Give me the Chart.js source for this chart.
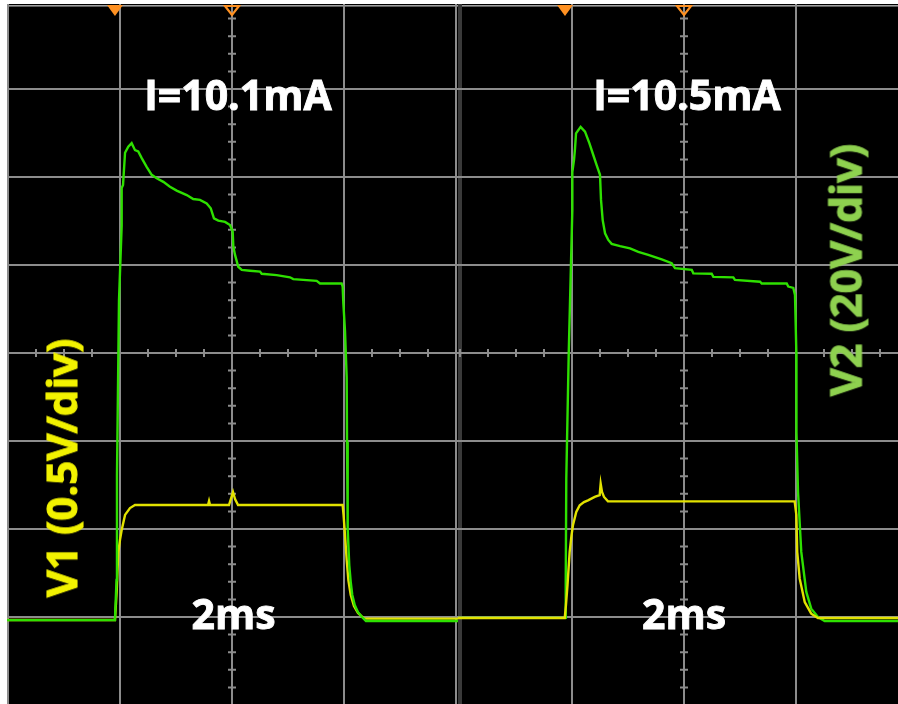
<!DOCTYPE html>
<html><head><meta charset="utf-8">
<script src="https://cdn.jsdelivr.net/npm/chart.js@4.4.1/dist/chart.umd.min.js"></script>
<style>
html,body{margin:0;padding:0;background:#fff;width:898px;height:704px;overflow:hidden;position:relative;font-family:'Open Sans',sans-serif;}
canvas{position:absolute;display:block;}
#cl{left:7px;top:4px;}
#cr{left:458px;top:4px;}
.lbl{position:absolute;font-weight:700;white-space:nowrap;-webkit-text-stroke:0.9px currentColor;}
</style></head>
<body>
<canvas id="cl" width="451" height="700"></canvas>
<canvas id="cr" width="440" height="700"></canvas>
<script>
// ---- data: time in ms, V1 in volts (0.5 V/div), V2 in volts (20 V/div) ----
const LEFT_V2_T = [-1.02,-0.045,-0.031,-0.027,-0.009,-0.004,0.015,0.015,0.027,0.045,
  0.074,0.104,0.134,0.163,0.194,0.238,0.283,0.328,0.387,0.446,
  0.506,0.596,0.654,0.714,0.774,0.810,0.839,0.878,0.938,0.982,
  1.006,1.012,1.027,1.056,1.087,1.161,1.250,1.265,1.399,1.518,
  1.547,1.756,1.786,1.979,1.988,1.994,2.009,2.024,2.027,2.033,
  2.039,2.047,2.060,2.074,2.096,2.125,2.161,2.196,3.02];
const LEFT_V2 = [-0.7,-0.7,8.4,32.3,72.0,75.5,88.9,97.5,98.2,105.5,
  106.9,107.7,106.1,105.8,104.3,102.3,100.5,99.7,98.9,97.8,
  96.9,95.9,95.0,94.8,94.0,92.9,90.6,90.1,89.8,89.1,
  87.6,84.2,82.3,79.6,78.9,78.7,78.5,78.0,77.7,77.2,
  76.8,76.4,75.8,75.8,75.1,71.4,65.0,54.5,39.8,20.0,
  16.4,11.8,8.0,5.0,2.7,1.1,0.0,-0.9,-0.9];

const LEFT_V1_T = [-1.02,-0.045,-0.029,-0.015,0.000,0.015,0.045,0.089,0.134,0.786,
  0.795,0.804,0.973,0.996,1.009,1.027,1.054,1.988,1.996,2.009,
  2.024,2.039,2.060,2.089,2.125,2.179,3.02];
const LEFT_V1 = [-0.017,-0.017,0.153,0.369,0.438,0.494,0.580,0.619,0.636,0.636,
  0.659,0.636,0.636,0.682,0.710,0.670,0.636,0.636,0.580,0.466,
  0.324,0.210,0.125,0.063,0.023,-0.009,-0.009];

const RIGHT_V2_T = [-1.02,-0.0625,-0.058,-0.054,-0.051,-0.029,-0.012,0.003,0.003,0.018,
  0.027,0.036,0.077,0.116,0.155,0.190,0.220,0.250,0.259,0.274,
  0.295,0.324,0.354,0.429,0.518,0.592,0.681,0.801,0.890,0.920,
  1.069,1.083,1.247,1.262,1.440,1.455,1.679,1.694,1.917,1.931,
  1.976,1.991,2.003,2.004,2.018,2.047,2.092,2.136,2.196,2.256,2.92];
const RIGHT_V2 = [-0.2,-0.2,3.9,8.0,31.4,60.2,77.3,92.5,101.1,103.9,
  106.5,109.9,111.4,110.3,107.7,105.0,102.7,100.5,94.8,90.2,
  87.2,85.7,84.8,84.3,83.8,83.0,82.3,81.3,80.4,79.3,
  78.9,78.1,78.0,77.3,77.2,76.6,76.2,75.8,75.8,75.1,
  74.8,73.2,60.2,42.0,28.4,14.8,5.7,1.9,0.0,-0.9,-0.9];

const RIGHT_V1_T = [-1.02,-0.065,-0.054,-0.040,-0.021,-0.004,0.009,0.038,0.069,0.107,
  0.143,0.203,0.247,0.256,0.268,0.286,0.321,1.988,2.003,2.011,
  2.033,2.078,2.136,2.196,2.92];
const RIGHT_V1 = [-0.006,-0.006,0.068,0.182,0.369,0.466,0.523,0.597,0.635,0.653,
  0.663,0.682,0.692,0.757,0.710,0.682,0.657,0.657,0.580,0.369,
  0.218,0.085,0.019,-0.006,-0.006];

const X_TICKS_LEFT = [-1, 0, 1, 2, 3];      // ms
const X_TICKS_RIGHT = [0, 1, 2];            // ms
const V1_TICKS = [0, 0.5, 1, 1.5, 2, 2.5, 3];  // V (grid divisions)
const TRIGGER_LEFT = -0.045, TRIGGER_RIGHT = -0.0625, CENTER_T = 1;
const LABEL_LEFT = 'I=10.1mA', LABEL_RIGHT = 'I=10.5mA', TIME_LABEL = '2ms';
const V1_LABEL = 'V1 (0.5V/div)', V2_LABEL = 'V2 (20V/div)';

// ---- scope geometry ----
const V1_PER_DIV = 0.5, V2_PER_DIV = 20, GROUND_DIV = -3;
const DIV_TOP = 3.9659, DIV_BOTTOM = -3.98864;
const V1_MIN = (DIV_BOTTOM - GROUND_DIV) * V1_PER_DIV, V1_MAX = (DIV_TOP - GROUND_DIV) * V1_PER_DIV;
const V2_MIN = (DIV_BOTTOM - GROUND_DIV) * V2_PER_DIV, V2_MAX = (DIV_TOP - GROUND_DIV) * V2_PER_DIV;
const GRID = '#8c8c8c', GREEN = '#2ee000', YELLOW = '#e2e200', ORANGE = '#ff9122';

const scopeDecor = {
  id: 'scopeDecor',
  beforeDraw(chart, args, o) {
    const {ctx, width, height} = chart;
    ctx.save();
    ctx.fillStyle = '#000'; ctx.fillRect(0, 0, width, height);
    ctx.fillStyle = '#a0a0a0'; ctx.fillRect(0, 1, width, 1.6);
    if (o.band) { ctx.fillStyle = '#3a3a3a'; ctx.fillRect(0, 0, 4, height); }
    ctx.restore();
  },
  beforeDatasetsDraw(chart) {
    const {ctx} = chart, x = chart.scales.x, y = chart.scales.y1;
    const cx = x.getPixelForValue(CENTER_T), cy = y.getPixelForValue(1.5);
    ctx.save(); ctx.strokeStyle = GRID; ctx.lineWidth = 2; ctx.beginPath();
    for (let k = -40; k <= 40; k++) {
      const py = y.getPixelForValue(1.5 + k * 0.1);
      if (py < 0 || py > chart.height) continue;
      ctx.moveTo(cx - 4, py); ctx.lineTo(cx + 4, py);
    }
    for (let k = -8; k <= 16; k++) {
      const px = x.getPixelForValue(k * 0.25);
      if (px < 0 || px > chart.width) continue;
      ctx.moveTo(px, cy - 4); ctx.lineTo(px, cy + 4);
    }
    ctx.stroke(); ctx.restore();
  },
  afterDatasetsDraw(chart, args, o) {
    const {ctx} = chart, x = chart.scales.x;
    const tp = x.getPixelForValue(o.trigger), cp = x.getPixelForValue(CENTER_T);
    ctx.save();
    ctx.fillStyle = ORANGE;
    ctx.beginPath(); ctx.moveTo(tp - 8, 1); ctx.lineTo(tp + 8, 1); ctx.lineTo(tp, 12); ctx.closePath(); ctx.fill();
    ctx.strokeStyle = ORANGE; ctx.lineWidth = 2.2;
    ctx.beginPath(); ctx.moveTo(cp - 7, 2); ctx.lineTo(cp + 7, 2); ctx.lineTo(cp, 11); ctx.closePath(); ctx.stroke();
    ctx.restore();
  }
};

function series(t, v, axis, color) {
  return {data: t.map((tt, i) => ({x: tt, y: v[i]})), yAxisID: axis, borderColor: color,
    borderWidth: 2.4, pointRadius: 0, tension: 0, fill: false};
}
function gridAxis(min, max, ticks, pos) {
  return {type: 'linear', position: pos, min, max,
    afterBuildTicks: s => { s.ticks = ticks.map(v => ({value: v})); },
    ticks: {display: false}, grid: {color: GRID, lineWidth: 2, drawTicks: false}, border: {display: false}};
}
function makeChart(id, xmin, xmax, xticks, sets, decor) {
  return new Chart(document.getElementById(id), {
    type: 'line',
    data: {datasets: sets},
    options: {
      responsive: false, animation: false, events: [], layout: {padding: 0},
      plugins: {legend: {display: false}, tooltip: {enabled: false}, scopeDecor: decor},
      scales: {
        x: gridAxis(xmin, xmax, xticks, 'bottom'),
        y1: gridAxis(V1_MIN, V1_MAX, V1_TICKS, 'left'),
        y2: {type: 'linear', position: 'right', display: false, min: V2_MIN, max: V2_MAX}
      }
    },
    plugins: [scopeDecor]
  });
}

makeChart('cl', -1.00893, -1.00893 + 451 / 112, X_TICKS_LEFT, [
  series(LEFT_V2_T, LEFT_V2, 'y2', GREEN),
  series(LEFT_V1_T, LEFT_V1, 'y1', YELLOW)
], {trigger: TRIGGER_LEFT, band: false});

makeChart('cr', -1.01786, -1.01786 + 440 / 112, X_TICKS_RIGHT, [
  series(RIGHT_V1_T, RIGHT_V1, 'y1', YELLOW),
  series(RIGHT_V2_T, RIGHT_V2, 'y2', GREEN)
], {trigger: TRIGGER_RIGHT, band: true});

// ---- text labels ----
const LABELS = [
  {text: LABEL_LEFT, cx: 238, base: 110, color: '#ffffff', size: 41},
  {text: LABEL_RIGHT, cx: 687, base: 110, color: '#ffffff', size: 41},
  {text: TIME_LABEL, cx: 233.5, base: 629, color: '#ffffff', size: 41},
  {text: TIME_LABEL, cx: 684, base: 629, color: '#ffffff', size: 41},
  {text: V1_LABEL, cx: 61, cy: 468, color: '#f2f200', size: 42, rot: true},
  {text: V2_LABEL, cx: 845, cy: 270, color: '#8ed14f', size: 43, rot: true}
];
LABELS.forEach(l => {
  const d = document.createElement('div');
  d.className = 'lbl'; d.textContent = l.text;
  d.style.color = l.color; d.style.fontSize = l.size + 'px';
  d.style.lineHeight = l.size + 'px'; d.style.height = l.size + 'px';
  d.style.left = l.cx + 'px';
  if (l.rot) {
    d.style.top = l.cy + 'px';
    d.style.transform = 'translate(-50%,-50%) rotate(-90deg)';
  } else {
    d.style.top = (l.base - l.size * 0.888) + 'px';
    d.style.transform = 'translateX(-50%)';
  }
  document.body.appendChild(d);
});
</script>
</body></html>
